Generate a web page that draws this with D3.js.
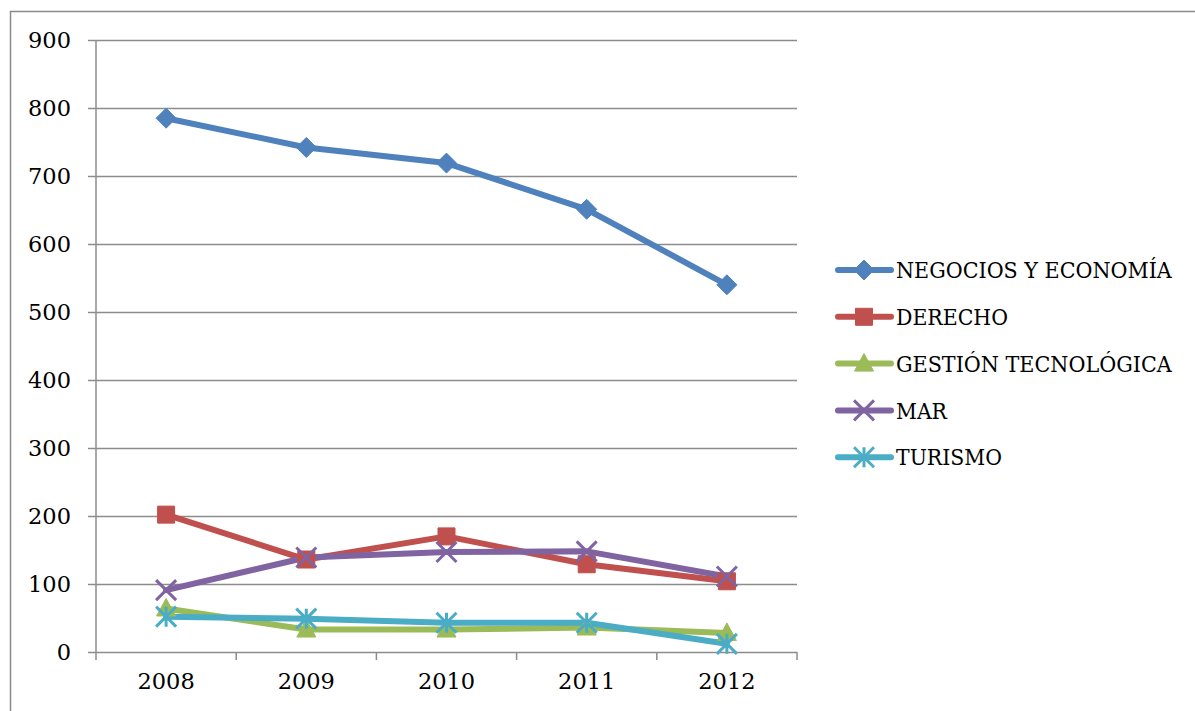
<!DOCTYPE html>
<html><head><meta charset="utf-8">
<script src="https://cdn.jsdelivr.net/npm/d3@7"></script>
<style>body{margin:0;background:#fff}svg{display:block}text{font-family:"DejaVu Serif",serif;fill:#000}</style>
</head><body><svg id="c" width="1195" height="711"></svg>
<script>
const years = ["2008","2009","2010","2011","2012"];
const yTicks = [0,100,200,300,400,500,600,700,800,900];
const seriesNames = ["NEGOCIOS Y ECONOMÍA","DERECHO","GESTIÓN TECNOLÓGICA","MAR","TURISMO"];
const negocios = [785,742,719,651,540];
const derecho = [202,136,170,129,104];
const gestion = [64,33,33,36,28];
const mar = [91,139,147,148,111];
const turismo = [52,49,43,43,12];
const seriesColors = ["#4F81BD","#C0504D","#9BBB59","#8064A2","#4BACC6"];
const markerTypes = ["diamond","square","triangle","x","star"];
const legendWidths = [276,112,276,51,106];

const series = seriesNames.map((n,i)=>({name:n,values:[negocios,derecho,gestion,mar,turismo][i],color:seriesColors[i],marker:markerTypes[i],lw:legendWidths[i]}));

const svg = d3.select("#c");
const L=96,R=797,T=40,B=652;
svg.append("rect").attr("x",10.5).attr("y",11.5).attr("width",1200).attr("height",720).attr("fill","#fff").attr("stroke","#8a8a8a").attr("stroke-width",1.5);

const x = d3.scaleBand().domain(years).range([L,R]).paddingInner(0).paddingOuter(0);
const y = d3.scaleLinear().domain([0,900]).range([B,T]);

const gy = svg.append("g").attr("transform",`translate(${L},0)`)
  .call(d3.axisLeft(y).tickValues(yTicks).tickSize(8).tickSizeOuter(0).tickPadding(17));
gy.selectAll(".tick line").clone().attr("x1",0).attr("x2",R-L);
gy.selectAll("line").attr("stroke","#8c8c8c").attr("stroke-width",1.5);
gy.select(".domain").attr("stroke","#8c8c8c").attr("stroke-width",1.5).attr("d",`M0,${T}V${B+8}`);
gy.selectAll("text").style("font-size","22.5px").style("font-family","DejaVu Serif").attr("dy","0.35em");

const gx = svg.append("g").attr("transform",`translate(0,${B})`)
  .call(d3.axisBottom(x).tickSize(0).tickPadding(21));
gx.select(".domain").remove();
gx.selectAll("text").style("font-size","22.5px").style("font-family","DejaVu Serif").attr("dy","0.71em");
const bounds = years.map(d=>x(d)).concat([R]);
svg.append("g").selectAll("line").data(bounds.slice(1)).join("line")
  .attr("x1",d=>d).attr("x2",d=>d).attr("y1",B).attr("y2",B+8)
  .attr("stroke","#8c8c8c").attr("stroke-width",1.5);

const cx = d=>x(d)+x.bandwidth()/2;

function markerPath(type,s){
  switch(type){
    case "diamond": return `M0,${-s}L${s},0L0,${s}L${-s},0Z`;
    case "square": return `M${-s*0.85},${-s*0.85}h${s*1.7}v${s*1.7}h${-s*1.7}Z`;
    case "triangle": return `M0,${-s}L${s*0.95},${s*0.75}L${-s*0.95},${s*0.75}Z`;
    case "x": return `M${-s},${-s}L${s},${s}M${-s},${s}L${s},${-s}`;
    case "star": return `M${-s},${-s}L${s},${s}M${-s},${s}L${s},${-s}M0,${-s}V${s}`;
  }
}

const line = d3.line().x((d,i)=>cx(years[i])).y(d=>y(d));
series.forEach(s=>{
  svg.append("path").attr("d",line(s.values)).attr("fill","none").attr("stroke",s.color)
    .attr("stroke-width",6).attr("stroke-linejoin","round").attr("stroke-linecap","round");
});
series.forEach(s=>{
  const filled = s.marker==="diamond"||s.marker==="square"||s.marker==="triangle";
  svg.append("g").selectAll("path").data(s.values).join("path")
    .attr("transform",(d,i)=>`translate(${cx(years[i])},${y(d)})`)
    .attr("d",markerPath(s.marker,10))
    .attr("fill",filled?s.color:"none")
    .attr("stroke",s.color).attr("stroke-width",filled?1:3);
});

const lg = svg.append("g");
series.forEach((s,i)=>{
  const yy = 270 + i*46.8;
  lg.append("line").attr("x1",838).attr("x2",891).attr("y1",yy).attr("y2",yy)
    .attr("stroke",s.color).attr("stroke-width",6).attr("stroke-linecap","round");
  const filled = s.marker==="diamond"||s.marker==="square"||s.marker==="triangle";
  lg.append("path").attr("transform",`translate(864,${yy})`).attr("d",markerPath(s.marker,10))
    .attr("fill",filled?s.color:"none").attr("stroke",s.color).attr("stroke-width",filled?1:3);
  const t = lg.append("text").attr("x",0).attr("y",0).attr("dy","0.36em")
    .style("font-size","23px").text(s.name);
  const nat = t.node().getComputedTextLength();
  const k = Math.min(1, s.lw/nat);
  t.attr("transform",`translate(896,${yy}) scale(${k},1)`);
});
</script></body></html>
